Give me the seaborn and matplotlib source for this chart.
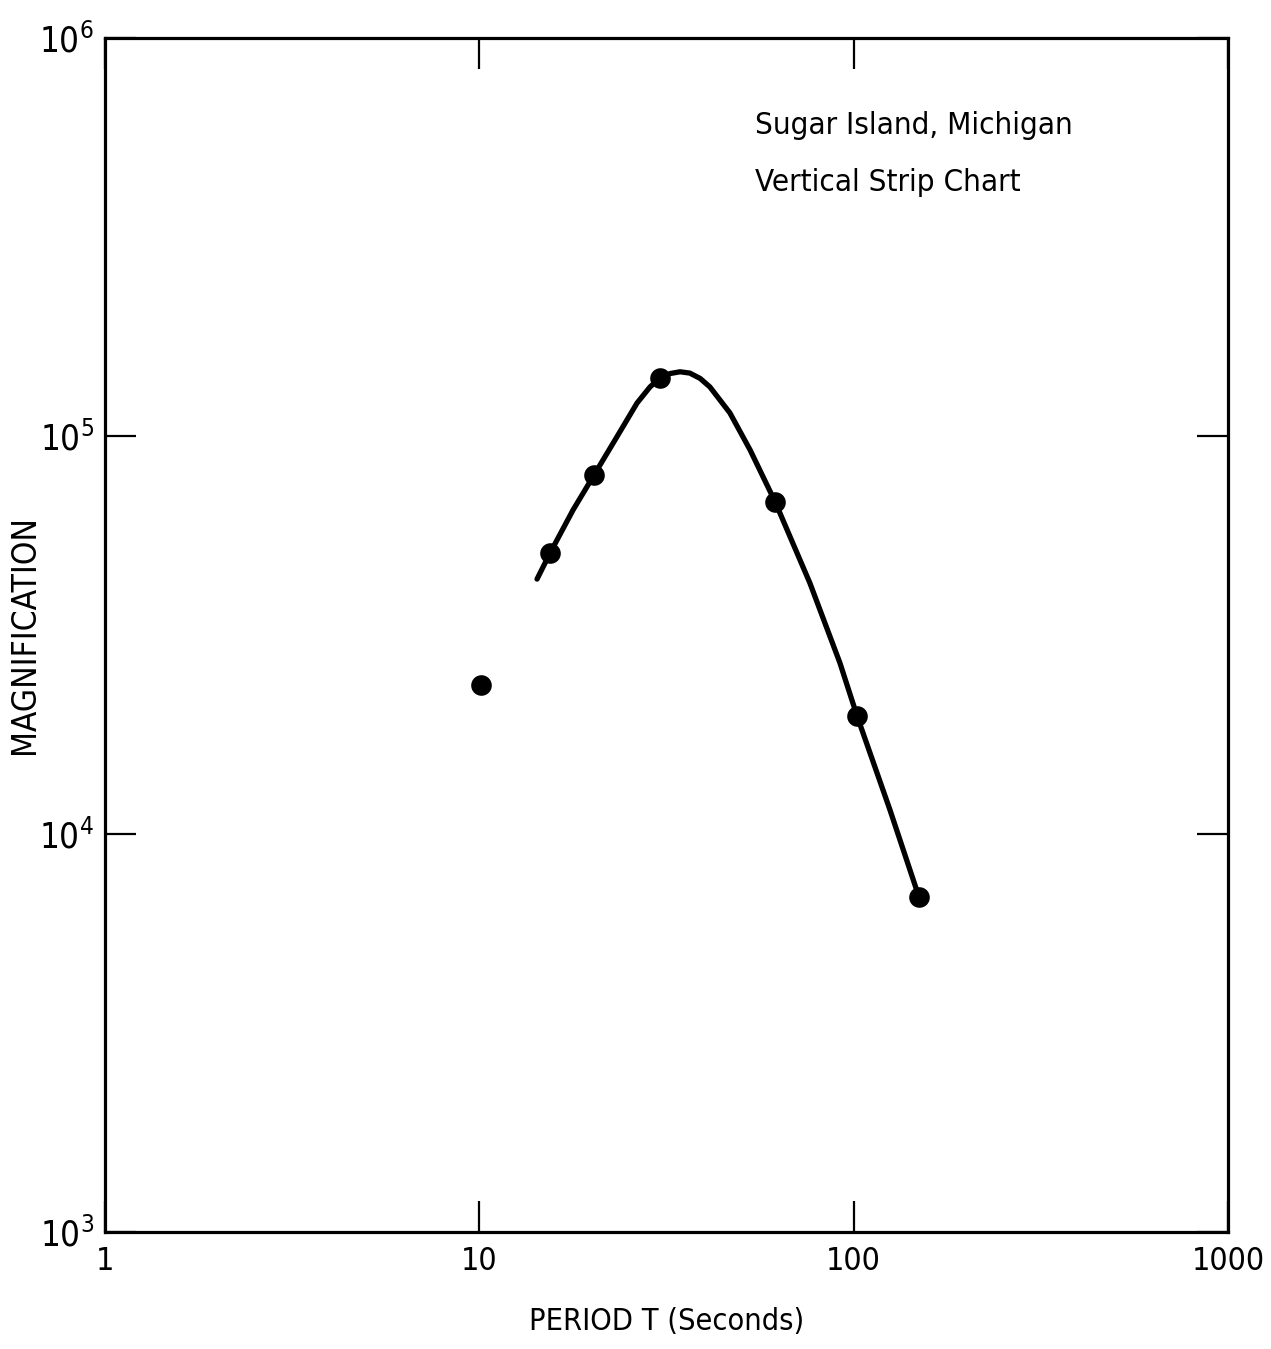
import matplotlib
matplotlib.use("Agg")
import matplotlib.pyplot as plt
import matplotlib.ticker as mticker
import seaborn as sns
import pandas as pd

# Measured points (period in seconds, magnification)
point_period = [10.1, 15.45, 20.25, 30.4, 61.7, 102.1, 149.4]
point_mag = [23700, 50800, 79800, 140000, 68300, 19800, 6950]

# Hand-drawn smooth curve
curve_period = [14.26, 15.45, 17.8, 20.25, 23.47, 26.38, 28.57, 30.4, 32.3, 34.37, 36.5,
                38.9, 41.3, 46.7, 52.9, 57.3, 61.7, 76.4, 91.9, 102.1, 125.0, 149.4]
curve_mag = [43700, 50800, 65200, 79800, 100600, 121000, 132800, 140000, 143500, 145000, 143900,
             139500, 132800, 114300, 92200, 78900, 68300, 42700, 26900, 19800, 11500, 6950]

x_ticks = [1, 10, 100, 1000]
x_tick_labels = ["1", "10", "100", "1000"]
y_ticks = [1e3, 1e4, 1e5, 1e6]
y_tick_labels = [r"$\mathregular{10^{3}}$", r"$\mathregular{10^{4}}$",
                 r"$\mathregular{10^{5}}$", r"$\mathregular{10^{6}}$"]

title_lines = ["Sugar Island, Michigan", "Vertical Strip Chart"]
x_label = "PERIOD T (Seconds)"
y_label = "MAGNIFICATION"

sns.set_style("white")
plt.rcParams["font.family"] = ["DejaVu Sans"]
plt.rcParams["font.stretch"] = "condensed"
plt.rcParams["text.color"] = "black"
plt.rcParams["axes.labelcolor"] = "black"
plt.rcParams["mathtext.fontset"] = "dejavusans"

fig = plt.figure(figsize=(12.71, 13.49), dpi=100)
ax = fig.add_axes([105 / 1271, 1 - 1232 / 1349, (1228 - 105) / 1271, (1232 - 38) / 1349])

curve_df = pd.DataFrame({"period": curve_period, "mag": curve_mag})
pts_df = pd.DataFrame({"period": point_period, "mag": point_mag})

sns.lineplot(data=curve_df, x="period", y="mag", ax=ax, color="black",
             linewidth=3.8, sort=False, solid_capstyle="round", solid_joinstyle="round")
sns.scatterplot(data=pts_df, x="period", y="mag", ax=ax, color="black",
                s=220, edgecolor="black", linewidth=0, zorder=5)

ax.set_xscale("log")
ax.set_yscale("log")
ax.set_xlim(1, 1000)
ax.set_ylim(1e3, 1e6)

ax.xaxis.set_major_locator(mticker.FixedLocator(x_ticks))
ax.yaxis.set_major_locator(mticker.FixedLocator(y_ticks))
ax.xaxis.set_minor_locator(mticker.NullLocator())
ax.yaxis.set_minor_locator(mticker.NullLocator())
ax.set_xticklabels(x_tick_labels)
ax.set_yticklabels(y_tick_labels)

ax.tick_params(axis="both", which="major", direction="in", length=22, width=1.6,
               top=True, right=True, bottom=True, left=True,
               labelsize=23, pad=10, colors="black")
ax.tick_params(axis="y", pad=8)
for lab in ax.get_yticklabels():
    lab.set_fontsize(25)
    lab.set_fontstretch("condensed")
for lab in ax.get_xticklabels():
    lab.set_fontstretch("condensed")

for sp in ax.spines.values():
    sp.set_linewidth(2.3)
    sp.set_color("black")
    sp.set_visible(True)

ax.set_xlabel(x_label, fontsize=22, fontstretch="condensed", color="black")
ax.set_ylabel(y_label, fontsize=24, fontstretch="condensed", color="black")
ax.xaxis.set_label_coords(0.5, (1232 - 1322) / 1194)
ax.xaxis.label.set_va("center")
ax.yaxis.set_label_coords((25 - 105) / 1123, 0.5)
ax.yaxis.label.set_va("center")

ax.text(0.579, 0.927, title_lines[0], transform=ax.transAxes, fontsize=22.5,
        fontstretch="condensed", ha="left", va="center", color="black")
ax.text(0.579, 0.879, title_lines[1], transform=ax.transAxes, fontsize=22.5,
        fontstretch="condensed", ha="left", va="center", color="black")

fig.savefig("out.png", dpi=100, facecolor="white")
